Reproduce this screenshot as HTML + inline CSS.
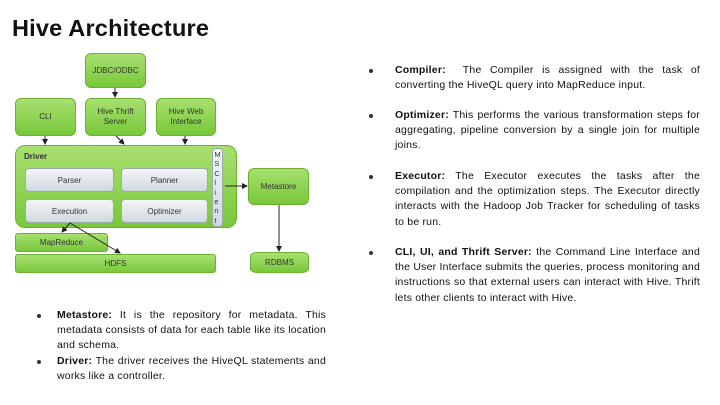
<!DOCTYPE html>
<html><head><meta charset="utf-8"><style>
body{margin:0;width:720px;height:405px;background:#fff;position:relative;overflow:hidden;font-family:"Liberation Sans",sans-serif}
h1{position:absolute;left:12px;top:15px;margin:0;font-size:23.5px;font-weight:bold;color:#111;letter-spacing:0.2px}
.b{position:absolute;border-radius:6px;background:linear-gradient(#a8e070,#78c83a);border:1px solid #6bb030;box-sizing:border-box;display:flex;align-items:center;justify-content:center;text-align:center;font-size:8px;color:#333;line-height:10px}
.g{position:absolute;border-radius:4px;background:linear-gradient(#f4f6f8,#d0d8e0);border:1px solid #9aa;box-sizing:border-box;display:flex;align-items:center;justify-content:center;font-size:8px;color:#333}
.p{position:absolute;font-size:10.5px;line-height:15.2px;color:#111;text-align:justify;letter-spacing:0.2px}
.p::before{content:"";position:absolute;width:4px;height:4px;border-radius:2px;background:#333;top:6px}
.r::before{left:-26px}.l::before{left:-20px}
</style></head><body>
<h1>Hive Architecture</h1>
<div class="b" style="left:85px;top:53px;width:61px;height:35px">JDBC/ODBC</div>
<div class="b" style="left:15px;top:98px;width:61px;height:38px">CLI</div>
<div class="b" style="left:85px;top:98px;width:61px;height:38px">Hive Thrift<br>Server</div>
<div class="b" style="left:156px;top:98px;width:60px;height:38px">Hive Web<br>Interface</div>
<div class="b" style="left:15px;top:145px;width:222px;height:83px;border-radius:10px;align-items:flex-start;justify-content:flex-start;padding:6px 8px;font-weight:bold">Driver</div>
<div class="g" style="left:25px;top:168px;width:89px;height:24px">Parser</div>
<div class="g" style="left:121px;top:168px;width:87px;height:24px">Planner</div>
<div class="g" style="left:25px;top:199px;width:89px;height:24px">Execution</div>
<div class="g" style="left:121px;top:199px;width:87px;height:24px">Optimizer</div>
<div class="g" style="left:212px;top:148px;width:11px;height:79px;flex-direction:column;line-height:9.4px;font-size:7.5px">M<br>S<br>C<br>l<br>i<br>e<br>n<br>t</div>
<div class="b" style="left:248px;top:168px;width:61px;height:37px">Metastore</div>
<div class="b" style="left:15px;top:233px;width:93px;height:19px;border-radius:3px">MapReduce</div>
<div class="b" style="left:15px;top:254px;width:201px;height:19px;border-radius:3px">HDFS</div>
<div class="b" style="left:250px;top:252px;width:59px;height:21px;border-radius:8px/4px">RDBMS</div>
<svg width="720" height="405" style="position:absolute;left:0;top:0">
<defs><marker id="a" markerWidth="6" markerHeight="6" refX="5" refY="3" orient="auto"><path d="M0,0L6,3L0,6z" fill="#222"/></marker></defs>
<g stroke="#222" stroke-width="1" fill="none" marker-end="url(#a)">
<line x1="115" y1="88" x2="115" y2="97"/>
<line x1="45" y1="136" x2="45" y2="144"/>
<line x1="116" y1="136" x2="124" y2="144"/>
<line x1="185" y1="136" x2="185" y2="144"/>
<line x1="225" y1="186" x2="247" y2="186"/>
<line x1="279" y1="205" x2="279" y2="251"/>
<line x1="70" y1="223" x2="62" y2="232"/>
<line x1="70" y1="223" x2="120" y2="253"/>
</g></svg>
<div class="p r" style="left:395px;top:63px;width:305px">
<b>Compiler:</b> &nbsp;The Compiler is assigned with the task of converting the HiveQL query into MapReduce input.</div>
<div class="p r" style="left:395px;top:108px;width:305px">
<b>Optimizer:</b> This performs the various transformation steps for aggregating, pipeline conversion by a single join for multiple joins.</div>
<div class="p r" style="left:395px;top:169px;width:305px">
<b>Executor:</b> The Executor executes the tasks after the compilation and the optimization steps. The Executor directly interacts with the Hadoop Job Tracker for scheduling of tasks to be run.</div>
<div class="p r" style="left:395px;top:245px;width:305px">
<b>CLI, UI, and Thrift Server:</b> the Command Line Interface and the User Interface submits the queries, process monitoring and instructions so that external users can interact with Hive. Thrift lets other clients to interact with Hive.</div>
<div class="p l" style="left:57px;top:308px;width:269px">
<b>Metastore:</b> It is the repository for metadata. This metadata consists of data for each table like its location and schema.</div>
<div class="p l" style="left:57px;top:354px;width:269px">
<b>Driver:</b> The driver receives the HiveQL statements and works like a controller.</div>
</body></html>
